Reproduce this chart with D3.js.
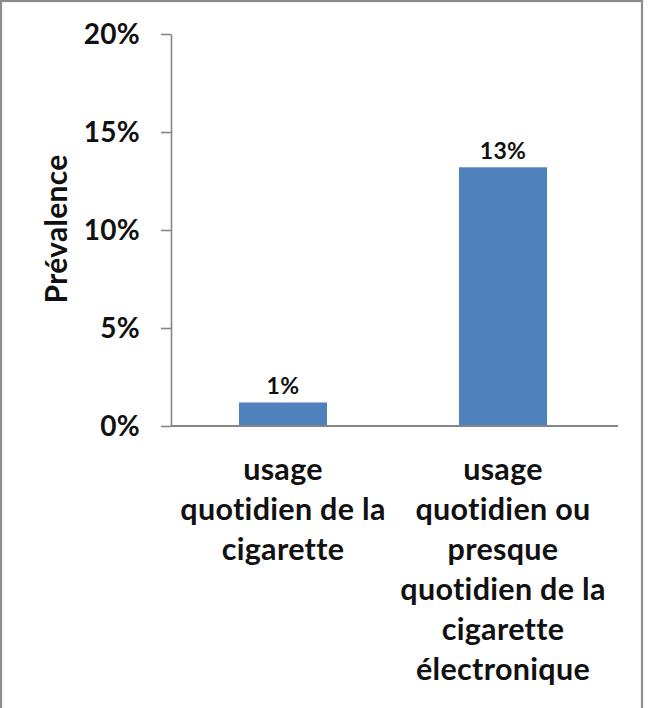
<!DOCTYPE html>
<html>
<head>
<meta charset="utf-8">
<script src="https://cdn.jsdelivr.net/npm/d3@7"></script>
<style>
  html, body { margin: 0; padding: 0; background: #fff; }
  svg { display: block; }
  text { font-family: Lato, "Open Sans", sans-serif; font-weight: bold; fill: #111;
         font-variant-ligatures: none; font-feature-settings: "liga" 0, "clig" 0, "dlig" 0; letter-spacing: 0.3px; }
</style>
</head>
<body>
<svg id="chart" width="648" height="708"></svg>
<script>
const categories = [
  ["usage", "quotidien de la", "cigarette"],
  ["usage", "quotidien ou", "presque", "quotidien de la", "cigarette", "électronique"]
];
const values = [0.012, 0.132];
const yTicks = [0, 0.05, 0.10, 0.15, 0.20];
const yTitle = "Prévalence";

const svg = d3.select("#chart");
const W = 648, H = 708;

// frame
svg.append("rect").attr("x", 1).attr("y", 1).attr("width", 641).attr("height", H + 10)
  .attr("fill", "#fff").attr("stroke", "#8c8c8c").attr("stroke-width", 2.2);

const plot = { left: 171, right: 618, top: 34, bottom: 426 };
const idx = categories.map((d, i) => i);

const y = d3.scaleLinear().domain([0, 0.2]).range([plot.bottom, plot.top]);
const x = d3.scaleBand().domain(idx).range([173, 613]).padding(0);
const barW = x.bandwidth() * 0.4;

// y axis
const yAxis = d3.axisLeft(y).tickValues(yTicks).tickFormat(d3.format(".0%"))
  .tickSize(10).tickSizeOuter(0).tickPadding(21);
const gy = svg.append("g").attr("transform", `translate(${plot.left},0)`).call(yAxis);
gy.select(".domain").attr("stroke", "#868686").attr("stroke-width", 1.6);
gy.selectAll(".tick line").attr("stroke", "#868686").attr("stroke-width", 1.6);
gy.selectAll(".tick text").style("font-size", "28px").style("font-family", "Lato, sans-serif")
  .style("font-weight", "bold").attr("fill", "#111").attr("dy", "0.35em");

// bars
svg.selectAll("rect.bar").data(values).join("rect").attr("class", "bar")
  .attr("x", (d, i) => x(i) + x.bandwidth() / 2 - barW / 2)
  .attr("width", barW)
  .attr("y", d => y(d))
  .attr("height", d => y(0) - y(d))
  .attr("fill", "#4F81BD");

// x baseline
svg.append("line").attr("x1", plot.left).attr("x2", plot.right)
  .attr("y1", y(0)).attr("y2", y(0)).attr("stroke", "#868686").attr("stroke-width", 1.8);

// data labels
svg.selectAll("text.val").data(values).join("text").attr("class", "val")
  .attr("x", (d, i) => x(i) + x.bandwidth() / 2)
  .attr("y", d => y(d) - 8.5)
  .attr("text-anchor", "middle")
  .style("font-size", "23px")
  .text(d => d3.format(".0%")(d));

// category labels
categories.forEach((lines, i) => {
  const t = svg.append("text").attr("text-anchor", "middle").style("font-size", "30.5px");
  lines.forEach((ln, j) => {
    t.append("tspan").attr("x", x(i) + x.bandwidth() / 2).attr("y", 480 + j * 40).text(ln);
  });
});

// y title
svg.append("text").attr("transform", `translate(67,229) rotate(-90)`)
  .attr("text-anchor", "middle").style("font-size", "30px").text(yTitle);
</script>
</body>
</html>
